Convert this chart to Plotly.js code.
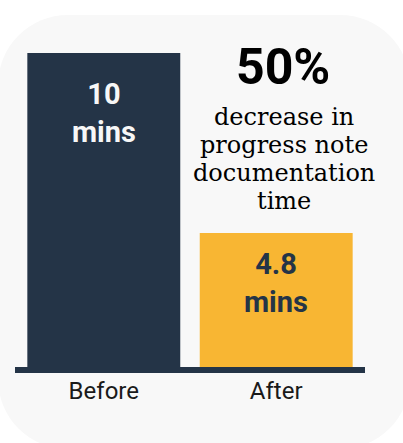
<!DOCTYPE html>
<html>
<head>
<meta charset="utf-8">
<script src="https://cdn.plot.ly/plotly-3.0.1.min.js"></script>
<style>
  html, body { margin: 0; padding: 0; background: #ffffff; width: 403px; height: 443px; overflow: hidden; }
  #card { position: absolute; left: -2px; top: 15px; width: 412px; height: 434px; background: #f8f8f8; border-radius: 70px; }
  #chart { position: absolute; left: 0; top: 0; width: 403px; height: 443px; }
</style>
</head>
<body>
<div id="card"></div>
<div id="chart"></div>
<script>
// ---- data ----
const categories = ['Before', 'After'];
const minutes = [10, 4.8];
const valueLabels = ['10', '4.8'];
const unitLabel = 'mins';
const barColors = ['#243447', '#F8B633'];
const labelColors = ['#f7f7f7', '#243447'];
const headline = '50%';
const descLines = ['decrease in', 'progress note', 'documentation', 'time'];

// ---- layout geometry ----
const W = 403, H = 443;
const M = { l: 15, r: 38, t: 30, b: 76 };
const plotH = H - M.t - M.b;
const plotW = W - M.l - M.r;
const px = x => (x - M.l) / plotW;
const py = y => (H - M.b - y) / plotH;

const annotations = [];
// value labels inside bars
const valShift = [-22.5, -12];
categories.forEach((c, i) => {
  annotations.push({
    x: c, y: minutes[i], xref: 'x', yref: 'y', text: valueLabels[i] + '<br>' + unitLabel, showarrow: false,
    xanchor: 'center', yanchor: 'top', yshift: valShift[i],
    font: { family: 'Roboto', size: 29, weight: 700, color: labelColors[i] }
  });
});
// headline
annotations.push({
  x: px(283), y: py(37), xref: 'paper', yref: 'paper', text: headline, showarrow: false,
  xanchor: 'center', yanchor: 'top', borderpad: 0,
  font: { family: 'Roboto', size: 50, weight: 700, color: '#000000' }
});
const descTops = [101.6, 129.6, 157.6, 185.6];
descLines.forEach((t, i) => {
  annotations.push({
    x: px(284), y: py(descTops[i]), xref: 'paper', yref: 'paper', text: t, showarrow: false,
    xanchor: 'center', yanchor: 'top', borderpad: 0,
    font: { family: 'DejaVu Serif', size: 24, color: '#000000' }
  });
});

const trace = {
  type: 'bar',
  x: categories,
  y: minutes,
  marker: { color: barColors, line: { width: 0 } },
  width: 0.887,
  hoverinfo: 'skip'
};

const layout = {
  width: W, height: H,
  margin: M,
  paper_bgcolor: 'rgba(0,0,0,0)',
  plot_bgcolor: 'rgba(0,0,0,0)',
  showlegend: false,
  xaxis: {
    type: 'category',
    range: [-0.515, 1.515],
    showline: true, linewidth: 6, linecolor: '#243447',
    showgrid: false, zeroline: false, ticks: '',
    ticklabelstandoff: -3,
    tickfont: { family: 'Roboto', size: 24, color: '#1a1a1a' }
  },
  yaxis: {
    range: [0.929, 10.664],
    visible: false, showgrid: false, zeroline: false
  },
  annotations: annotations
};

Plotly.newPlot('chart', [trace], layout, { displayModeBar: false, staticPlot: true });
</script>
</body>
</html>
